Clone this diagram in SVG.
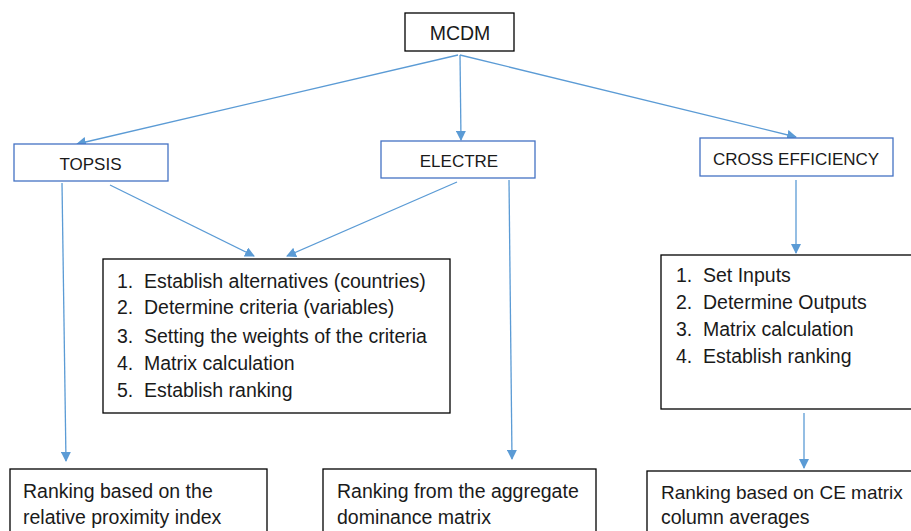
<svg xmlns="http://www.w3.org/2000/svg" width="911" height="531" viewBox="0 0 911 531">
<style>
.box{fill:#fff;stroke:#000;stroke-width:1.3}
.bbox{fill:#fff;stroke:#4472C4;stroke-width:1.3}
text{font-family:"Liberation Sans",Arial,sans-serif;font-size:19.5px;fill:#1a1a1a}
.h{font-size:17px}
.c{fill:none;stroke:#5B9BD5;stroke-width:1.3;marker-end:url(#ah)}
</style>
<defs>
<marker id="ah" viewBox="0 0 10 10" refX="9" refY="5" markerWidth="10" markerHeight="10" markerUnits="userSpaceOnUse" orient="auto">
<path d="M0,0 L10,5 L0,10 z" fill="#5B9BD5"/>
</marker>
</defs>
<g id="connectors">
<line class="c" x1="458" y1="55" x2="77" y2="144"/>
<line class="c" x1="460" y1="55" x2="461" y2="140"/>
<line class="c" x1="460" y1="55" x2="796" y2="137"/>
<line class="c" x1="62" y1="183" x2="66" y2="461"/>
<line class="c" x1="110" y1="185" x2="254" y2="256"/>
<line class="c" x1="457" y1="182" x2="287" y2="256"/>
<line class="c" x1="509" y1="180" x2="512" y2="459"/>
<line class="c" x1="796" y1="180" x2="796" y2="253"/>
<line class="c" x1="804" y1="413" x2="804" y2="468"/>
</g>
<g id="mcdm"><rect class="box" x="405" y="13" width="109" height="38"/><text x="460" y="40" text-anchor="middle">MCDM</text></g>
<g id="topsis"><rect class="bbox" x="14" y="144" width="154" height="37"/><text class="h" x="90.5" y="170" text-anchor="middle">TOPSIS</text></g>
<g id="electre"><rect class="bbox" x="381" y="141" width="154" height="37"/><text class="h" x="459" y="167" text-anchor="middle">ELECTRE</text></g>
<g id="cross-efficiency"><rect class="bbox" x="700" y="138" width="193" height="38"/><text class="h" x="796" y="165" text-anchor="middle">CROSS EFFICIENCY</text></g>
<g id="steps">
<rect class="box" x="103" y="259" width="347" height="154"/>
<text x="117" y="288">1.</text><text x="144" y="288">Establish alternatives (countries)</text>
<text x="117" y="314">2.</text><text x="144" y="314">Determine criteria (variables)</text>
<text x="117" y="343">3.</text><text x="144" y="343">Setting the weights of the criteria</text>
<text x="117" y="370">4.</text><text x="144" y="370">Matrix calculation</text>
<text x="117" y="397">5.</text><text x="144" y="397">Establish ranking</text>
</g>
<g id="ce-steps">
<rect class="box" x="661" y="255" width="260" height="154"/>
<text x="676" y="282">1.</text><text x="703" y="282">Set Inputs</text>
<text x="676" y="309">2.</text><text x="703" y="309">Determine Outputs</text>
<text x="676" y="336">3.</text><text x="703" y="336">Matrix calculation</text>
<text x="676" y="363">4.</text><text x="703" y="363">Establish ranking</text>
</g>
<g id="result-topsis"><rect class="box" x="10" y="469" width="257" height="70"/><text x="23" y="498">Ranking based on the</text><text x="23" y="524">relative proximity index</text></g>
<g id="result-electre"><rect class="box" x="323" y="469" width="273" height="70"/><text x="337" y="498">Ranking from the aggregate</text><text x="337" y="524">dominance matrix</text></g>
<g id="result-ce"><rect class="box" x="647" y="471" width="274" height="70"/><text x="661" y="499" style="font-size:19px">Ranking based on CE matrix</text><text x="661" y="524">column averages</text></g>
</svg>
